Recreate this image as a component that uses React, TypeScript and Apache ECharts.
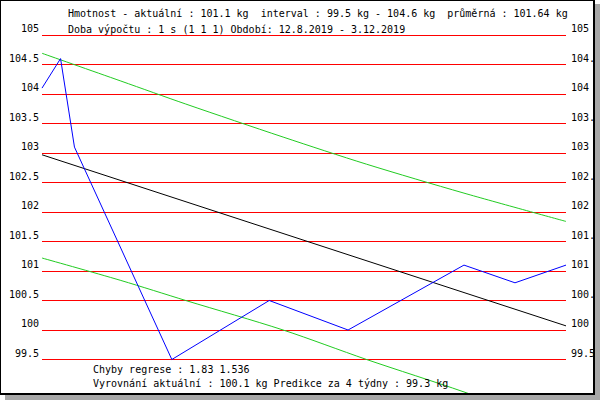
import React, { useEffect, useRef } from "react";
import * as echarts from "echarts";

// ---- data ----
const measureDates = [
  "2019-08-12",
  "2019-08-16",
  "2019-08-19",
  "2019-09-09",
  "2019-09-30",
  "2019-10-17",
  "2019-11-11",
  "2019-11-22",
  "2019-12-03",
];
const weights = [104.1, 104.6, 103.1, 99.5, 100.5, 100.0, 101.1, 100.8, 101.1];

const trendDates = ["2019-08-12", "2019-12-03"];
const regression = [102.97, 100.07];

const bandDates = [
  "2019-08-12",
  "2019-08-29",
  "2019-09-12",
  "2019-10-03",
  "2019-10-21",
  "2019-11-11",
  "2019-12-03",
];
const upperBand = [104.69, 104.22, 103.83, 103.27, 102.81, 102.32, 101.84];
const lowerBand = [101.22, 100.84, 100.5, 100.0, 99.5, 98.95, 98.32];

const yMin = 99.5;
const yMax = 105;
const yStep = 0.5;

const headerLines = [
  "Hmotnost - aktuální : 101.1 kg  interval : 99.5 kg - 104.6 kg  průměrná : 101.64 kg",
  "Doba výpočtu : 1 s (1 1 1) Období: 12.8.2019 - 3.12.2019",
];
const footerLines = [
  "Chyby regrese : 1.83 1.536",
  "Vyrovnání aktuální : 100.1 kg Predikce za 4 týdny : 99.3 kg",
];

const FONT = '"DejaVu Sans Mono", "Liberation Mono", monospace';

const pairs = (xs: string[], ys: number[]) => xs.map((x, i) => [x, ys[i]]);

export default function App() {
  const ref = useRef<HTMLDivElement>(null);

  useEffect(() => {
    if (!ref.current) return;
    const chart = echarts.init(ref.current, null, { renderer: "svg" });
    const textStyle = (text: string) => ({
      text,
      fontFamily: FONT,
      fontSize: 10,
      fill: "#000",
      verticalAlign: "middle",
      align: "left",
    });
    const axisCommon = {
      type: "value",
      min: yMin,
      max: yMax,
      interval: yStep,
      axisLine: { show: false },
      axisTick: { show: false },
      showMinLabel: true,
      showMaxLabel: true,
    };
    const labelCommon = {
      color: "#000",
      fontFamily: FONT,
      fontSize: 10,
      verticalAlign: "bottom",
      lineHeight: 13,
    };
    chart.setOption({
      animation: false,
      grid: {
        left: 42,
        right: 27,
        top: 35,
        bottom: 33.5,
        containLabel: false,
        outerBoundsMode: "none",
      },
      xAxis: {
        type: "time",
        min: trendDates[0],
        max: trendDates[1],
        show: false,
      },
      yAxis: [
        {
          ...axisCommon,
          position: "left",
          axisLabel: { ...labelCommon, margin: 3 },
          splitLine: { show: true, lineStyle: { color: "#ff0000", width: 1 } },
        },
        {
          ...axisCommon,
          position: "right",
          axisLabel: { ...labelCommon, margin: 5 },
          splitLine: { show: false },
        },
      ],
      series: [
        {
          type: "line",
          data: pairs(bandDates, upperBand),
          symbol: "none",
          smooth: 0.3,
          clip: false,
          lineStyle: { color: "#22cc22", width: 1 },
        },
        {
          type: "line",
          data: pairs(bandDates, lowerBand),
          symbol: "none",
          smooth: 0.3,
          clip: false,
          lineStyle: { color: "#22cc22", width: 1 },
        },
        {
          type: "line",
          data: pairs(trendDates, regression),
          symbol: "none",
          clip: false,
          lineStyle: { color: "#000000", width: 1 },
        },
        {
          type: "line",
          data: pairs(measureDates, weights),
          symbol: "none",
          clip: false,
          lineStyle: { color: "#0000ff", width: 1 },
        },
      ],
      graphic: [
        { type: "text", x: 68, y: 13, z: 10, style: textStyle(headerLines[0]) },
        { type: "text", x: 68, y: 29, z: 10, style: textStyle(headerLines[1]) },
        { type: "text", x: 93, y: 369, z: 10, style: textStyle(footerLines[0]) },
        { type: "text", x: 93, y: 383, z: 10, style: textStyle(footerLines[1]) },
      ],
    });
    return () => chart.dispose();
  }, []);

  return (
    <div
      style={{
        position: "absolute",
        left: 0,
        top: 0,
        width: 600,
        height: 400,
        background: "#fff",
        overflow: "hidden",
      }}
    >
      <div style={{ position: "absolute", left: 5, top: 395, width: 595, height: 5, background: "#a8a8a8" }} />
      <div style={{ position: "absolute", left: 595, top: 4, width: 5, height: 396, background: "#a8a8a8" }} />
      <div
        ref={ref}
        style={{ position: "absolute", left: 0, top: 0, width: 593, height: 393, overflow: "hidden" }}
      />
      <div
        style={{
          position: "absolute",
          left: 0,
          top: 0,
          width: 595,
          height: 395,
          boxSizing: "border-box",
          borderTop: "1px solid #000",
          borderLeft: "1px solid #000",
          borderRight: "2px solid #000",
          borderBottom: "2px solid #000",
          pointerEvents: "none",
        }}
      />
    </div>
  );
}
